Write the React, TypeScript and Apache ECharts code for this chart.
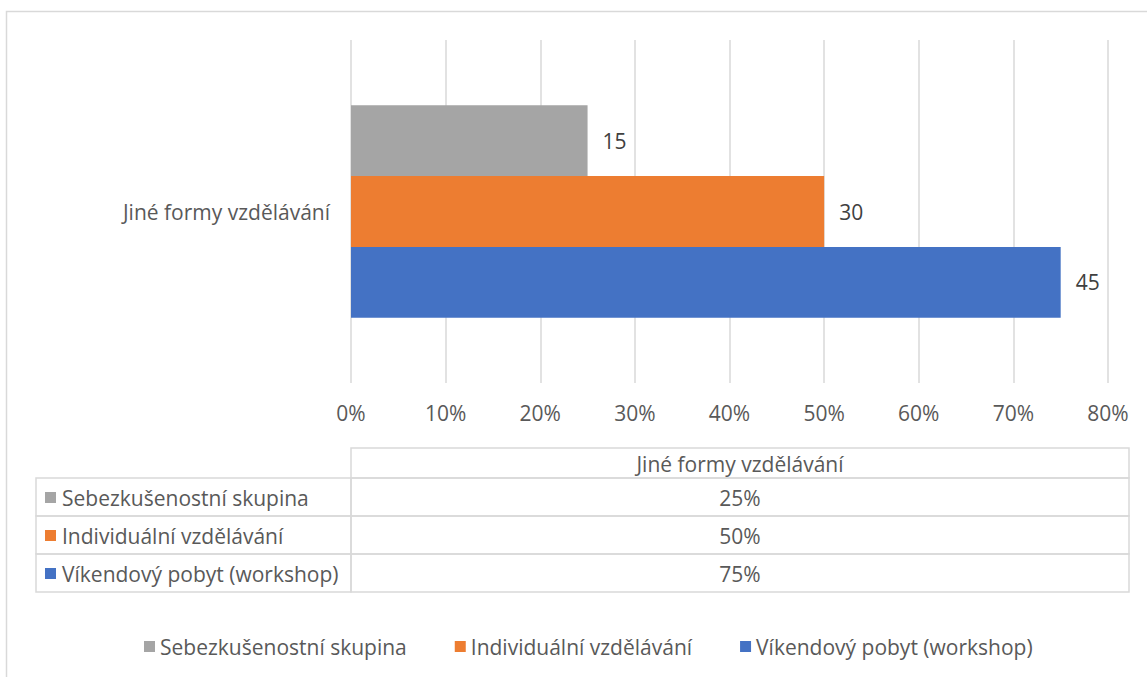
import React, { useEffect, useRef } from "react";
import * as echarts from "echarts";

const categories = ["Jiné formy vzdělávání"];
const seriesNames = ["Sebezkušenostní skupina", "Individuální vzdělávání", "Víkendový pobyt (workshop)"];
const seriesColors = ["#A5A5A5", "#ED7D31", "#4472C4"];
const percentValues = [25, 50, 75];
const countLabels = [15, 30, 45];
const xTicks = { min: 0, max: 80, interval: 10 };

const FONT = "'Open Sans', sans-serif";
const FS = 21;
const TXT = "#595959";
const LINE = "#D9D9D9";

export default function App() {
  const ref = useRef<HTMLDivElement>(null);
  useEffect(() => {
    if (!ref.current) return;
    const chart = echarts.init(ref.current, null, { renderer: "svg" });

    const tL = 36, tC = 351, tR = 1129;
    const hTop = 448, hBot = 478;
    const rowH = 38;
    const graphics: any[] = [];
    graphics.push({ type: "rect", shape: { x: 6.5, y: 11.5, width: 1200, height: 700 }, style: { fill: "none", stroke: LINE, lineWidth: 1.5 }, silent: true });
    graphics.push({ type: "rect", shape: { x: tC, y: hTop, width: tR - tC, height: hBot - hTop }, style: { fill: "none", stroke: LINE, lineWidth: 1.5 } });
    graphics.push({ type: "text", x: (tC + tR) / 2, y: (hTop + hBot) / 2 + 1, style: { text: categories[0], font: `${FS}px ${FONT}`, fill: TXT, align: "center", verticalAlign: "middle" } });
    seriesNames.forEach((name, i) => {
      const y0 = hBot + i * rowH;
      graphics.push({ type: "rect", shape: { x: tL, y: y0, width: tC - tL, height: rowH }, style: { fill: "none", stroke: LINE, lineWidth: 1.5 } });
      graphics.push({ type: "rect", shape: { x: tC, y: y0, width: tR - tC, height: rowH }, style: { fill: "none", stroke: LINE, lineWidth: 1.5 } });
      graphics.push({ type: "rect", shape: { x: 45, y: y0 + rowH / 2 - 5, width: 11, height: 11 }, style: { fill: seriesColors[i] } });
      graphics.push({ type: "text", x: 62, y: y0 + rowH / 2 + 1, style: { text: name, font: `${FS}px ${FONT}`, fill: TXT, align: "left", verticalAlign: "middle" } });
      graphics.push({ type: "text", x: (tC + tR) / 2, y: y0 + rowH / 2 + 1, style: { text: percentValues[i] + "%", font: `${FS}px ${FONT}`, fill: TXT, align: "center", verticalAlign: "middle" } });
    });

    chart.setOption({
      animation: false,
      textStyle: { fontFamily: FONT },
      grid: { left: 351, right: 39, top: 40, bottom: 294 },
      xAxis: {
        type: "value",
        min: xTicks.min,
        max: xTicks.max,
        interval: xTicks.interval,
        axisLine: { show: false },
        axisTick: { show: false },
        axisLabel: { formatter: "{value}%", color: TXT, fontSize: FS, margin: 19, fontFamily: FONT },
        splitLine: { lineStyle: { color: LINE, width: 1.5 } },
      },
      yAxis: {
        type: "category",
        data: categories,
        inverse: true,
        axisLine: { show: false },
        axisTick: { show: false },
        axisLabel: { color: TXT, fontSize: FS, margin: 21, fontFamily: FONT },
      },
      legend: {
        top: 631,
        left: 139,
        itemWidth: 11,
        itemHeight: 11,
        itemGap: 48,
        icon: "rect",
        textStyle: { color: TXT, fontSize: FS, fontFamily: FONT },
        data: seriesNames,
      },
      series: seriesNames.map((name, i) => ({
        name,
        type: "bar",
        data: [percentValues[i]],
        barGap: "0%",
        barCategoryGap: "38%",
        itemStyle: { color: seriesColors[i] },
        label: {
          show: true,
          position: "right",
          distance: 15,
          formatter: () => String(countLabels[i]),
          color: "#404040",
          fontSize: FS,
          fontFamily: FONT,
        },
      })),
      graphic: graphics,
    });
    return () => chart.dispose();
  }, []);
  return <div ref={ref} style={{ position: "fixed", left: 0, top: 0, width: 1147, height: 677, background: "#fff" }} />;
}
